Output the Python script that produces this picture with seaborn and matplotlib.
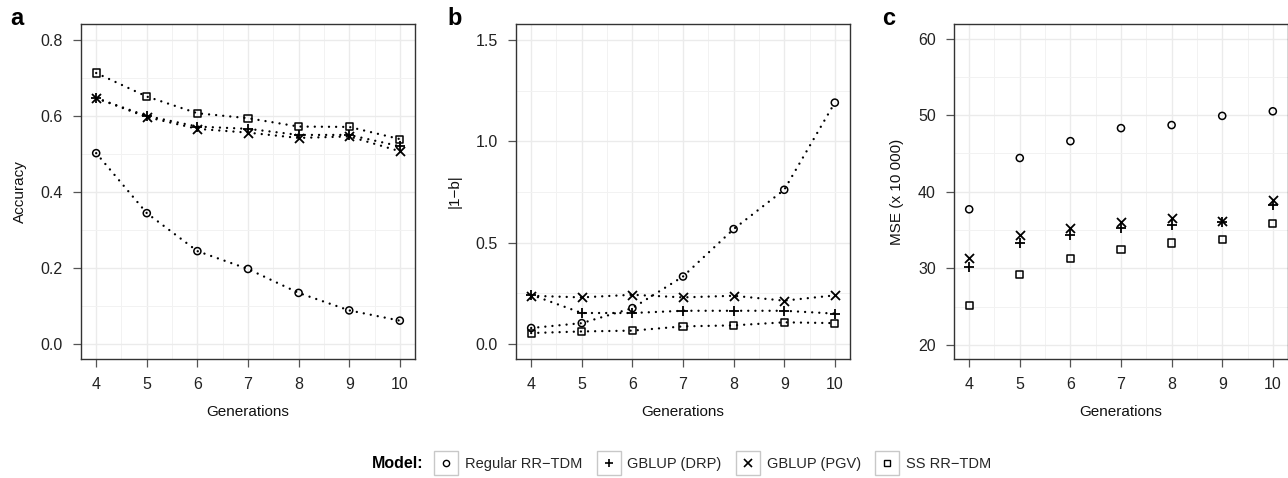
import matplotlib
matplotlib.use('Agg')
import matplotlib.pyplot as plt
from matplotlib.lines import Line2D
from matplotlib.ticker import MultipleLocator
import seaborn as sns
import pandas as pd

generations = [4, 5, 6, 7, 8, 9, 10]
models = ["Regular RR\u2212TDM", "GBLUP (DRP)", "GBLUP (PGV)", "SS RR\u2212TDM"]

# Accuracy
acc_regular = [0.502, 0.344, 0.244, 0.197, 0.134, 0.088, 0.061]
acc_drp = [0.647, 0.600, 0.572, 0.566, 0.550, 0.550, 0.520]
acc_pgv = [0.647, 0.597, 0.566, 0.556, 0.542, 0.546, 0.507]
acc_ss = [0.713, 0.651, 0.607, 0.594, 0.572, 0.571, 0.539]

# |1-b|
bias_regular = [0.079, 0.103, 0.177, 0.333, 0.567, 0.761, 1.191]
bias_drp = [0.243, 0.153, 0.153, 0.164, 0.164, 0.164, 0.150]
bias_pgv = [0.238, 0.230, 0.243, 0.230, 0.238, 0.214, 0.240]
bias_ss = [0.054, 0.062, 0.066, 0.087, 0.092, 0.107, 0.103]

# MSE (x 10 000)
mse_regular = [37.7, 44.4, 46.6, 48.3, 48.7, 49.9, 50.5]
mse_drp = [30.1, 33.3, 34.3, 35.3, 35.7, 36.1, 38.2]
mse_pgv = [31.4, 34.3, 35.3, 36.0, 36.6, 36.2, 38.9]
mse_ss = [25.1, 29.2, 31.3, 32.5, 33.3, 33.7, 35.9]

markers = {models[0]: 'o', models[1]: '+', models[2]: 'x', models[3]: 's'}


def long_df(series):
    rows = []
    for m, vals in zip(models, series):
        for g, v in zip(generations, vals):
            rows.append({"Generations": g, "value": v, "Model": m})
    return pd.DataFrame(rows)


sns.set_theme(style="white")
plt.rcParams['font.family'] = ['Liberation Sans', 'DejaVu Sans']

fig = plt.figure(figsize=(12.88, 4.78), dpi=100)
W, H = 1288, 478
lefts = [81, 516, 954]
panels = [
    (long_df([acc_regular, acc_drp, acc_pgv, acc_ss]), "Accuracy", (-0.04, 0.842), 0.2, 0.1, True, "a", 10),
    (long_df([bias_regular, bias_drp, bias_pgv, bias_ss]), "|1\u2212b|", (-0.074, 1.579), 0.5, 0.25, True, "b", 447),
    (long_df([mse_regular, mse_drp, mse_pgv, mse_ss]), "MSE (x 10 000)", (18.15, 61.9), 10, 5, False, "c", 882),
]

for left, (df, ylab, ylim, major, minor, lines, letter, lx) in zip(lefts, panels):
    ax = fig.add_axes([left / W, (478 - 359) / H, 334 / W, 335 / H])
    ax.set_axisbelow(True)
    for m in models:
        sub = df[df["Model"] == m]
        if lines:
            sns.lineplot(data=sub, x="Generations", y="value", ax=ax, color='black',
                         linestyle=(0, (0.01, 3.0)), linewidth=1.7, dash_capstyle='round')
        if markers[m] in ('o', 's'):
            sns.scatterplot(data=sub, x="Generations", y="value", ax=ax, marker=markers[m],
                            s=26, facecolor='none', edgecolor='black', linewidth=1.1, zorder=3)
        else:
            sns.scatterplot(data=sub, x="Generations", y="value", ax=ax, marker=markers[m],
                            s=42, color='black', linewidth=1.3, zorder=3)
    ax.set_xlim(3.7, 10.3)
    ax.set_ylim(*ylim)
    ax.set_xticks(generations)
    ax.xaxis.set_minor_locator(MultipleLocator(0.5))
    ax.yaxis.set_major_locator(MultipleLocator(major))
    ax.yaxis.set_minor_locator(MultipleLocator(minor))
    ax.grid(which='major', color='#ebebeb', linewidth=1.0)
    ax.grid(which='minor', color='#f2f2f2', linewidth=0.7)
    for sp in ax.spines.values():
        sp.set_color('#333333')
        sp.set_linewidth(1.0)
    ax.tick_params(which='major', direction='out', length=6, width=0.9, color='#555555',
                   labelsize=11.5, labelcolor='#222222', pad=7, bottom=True, left=True)
    ax.tick_params(which='minor', length=0)
    ax.set_xlabel("Generations", fontsize=11, color='#111111', labelpad=9)
    ax.set_ylabel(ylab, fontsize=11, color='#111111', labelpad=10)
    fig.text(lx / W, 1 - 7 / H, letter, fontsize=17, fontweight='bold', color='black',
             ha='left', va='top')

# legend
handles = []
for m in models:
    box = Line2D([], [], linestyle='none', marker='s', markersize=17.5,
                 markerfacecolor='white', markeredgecolor='#c8c8c8', markeredgewidth=1.0)
    if markers[m] in ('o', 's'):
        mk = Line2D([], [], linestyle='none', marker=markers[m], markersize=4.5,
                    markerfacecolor='none', markeredgecolor='black', markeredgewidth=1.0)
    else:
        mk = Line2D([], [], linestyle='none', marker=markers[m], markersize=6,
                    color='black', markeredgewidth=1.2)
    handles.append((box, mk))

fig.text(423 / W, 1 - 464 / H, "Model:", fontsize=11.5, fontweight='bold', color='black',
         ha='right', va='center')
fig.legend(handles, models, loc='center left', bbox_to_anchor=(435 / W, 1 - 464 / H),
           ncol=4, frameon=False, fontsize=10.5, handlelength=1.5, handletextpad=0.55,
           columnspacing=1.05, borderpad=0.0, borderaxespad=0.0)

fig.savefig("out.png", dpi=100)
